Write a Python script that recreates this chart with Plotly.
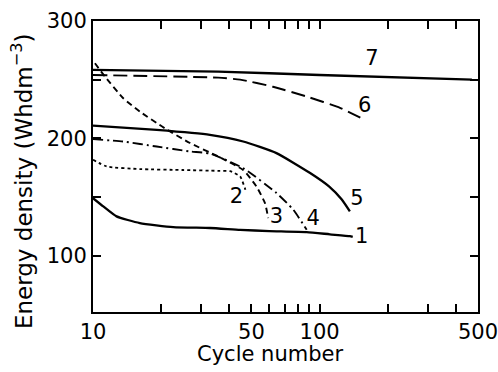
import plotly.graph_objects as go

# Curve data (cycle number, energy density in Wh dm^-3)
c1_x = [10, 11.1, 12.7, 16.1, 22.6, 32.8, 44.6, 60, 87.7, 111, 136, 140]
c1_y = [149, 142, 133.5, 127.8, 124.4, 123.6, 122, 121, 120.1, 118.2, 116.6, 116]

c2_x = [10, 11.5, 16.1, 25, 35.7, 40.3, 44.6, 46.8, 47.3]
c2_y = [181.7, 176, 173.8, 173, 172.3, 172, 167.5, 157.6, 154.7]

c3_x = [10.2, 11.3, 13.6, 16.1, 20.7, 26.8, 35.7, 46, 52.6, 57.4, 59.3]
c3_y = [264, 252.6, 234.2, 222.8, 208.7, 196, 184.5, 173, 159, 144.8, 132]

c4_x = [10, 13.6, 19.1, 26.8, 32.8, 46, 64.5, 76.6, 87.7]
c4_y = [199.3, 197.3, 193, 188.8, 187, 174.6, 153.4, 139.1, 122]

c5_x = [10, 19.1, 32.8, 46, 64.5, 90.8, 110, 125, 136]
c5_y = [210.9, 207.2, 203, 197.3, 187.4, 170.4, 159, 148, 137.7]

c6_x = [10, 35.7, 44.6, 62.2, 87.7, 123, 157]
c6_y = [254, 251.7, 250, 244, 235.6, 226, 216]

c7_x = [10, 35.7, 100, 470]
c7_y = [258.3, 256.9, 254, 250]

labels = ["1", "2", "3", "4", "5", "6", "7"]
label_x = [153.5, 43, 64.5, 93.7, 146, 158, 170]
label_y = [115, 149, 132, 130.6, 147.7, 227, 267]

x_title = "Cycle number"
y_title = "Energy density (Whdm<sup>−3</sup>)"

x_tickvals = [10, 20, 30, 40, 50, 60, 70, 80, 90, 100, 200, 300, 400, 500]
x_ticktext = ["10", "", "", "", "50", "", "", "", "", "100", "", "", "", "500"]
y_tickvals = [100, 150, 200, 250, 300]
y_ticktext = ["100", "", "200", "", "300"]

series = [
    (c1_x, c1_y, "solid", 2.3),
    (c2_x, c2_y, "dot", 1.8),
    (c3_x, c3_y, "6px,4px", 1.9),
    (c4_x, c4_y, "10px,4px,2px,4px", 1.9),
    (c5_x, c5_y, "solid", 2.3),
    (c6_x, c6_y, "14px,6px", 1.9),
    (c7_x, c7_y, "solid", 2.3),
]

fig = go.Figure()
for xs, ys, dash, w in series:
    fig.add_trace(go.Scatter(x=xs, y=ys, mode="lines",
                             line=dict(color="black", width=w, dash=dash, shape="spline", smoothing=0.5),
                             showlegend=False, hoverinfo="skip"))

fig.add_trace(go.Scatter(x=label_x, y=label_y, mode="text", text=labels,
                         textfont=dict(family="DejaVu Sans", size=21, color="black"),
                         showlegend=False, hoverinfo="skip"))

fig.update_layout(
    width=498, height=372,
    margin=dict(l=93, r=20, t=21, b=60, autoexpand=False),
    paper_bgcolor="white", plot_bgcolor="white",
    font=dict(family="DejaVu Sans", size=21, color="black"),
)
fig.add_annotation(text=x_title, xref="paper", yref="paper", x=0.46, y=0,
                   yshift=-28, xanchor="center", yanchor="top", showarrow=False,
                   font=dict(size=21))
fig.add_annotation(text=y_title, xref="paper", yref="paper", x=0, y=0.45,
                   xshift=-71, xanchor="center", yanchor="middle", textangle=-90,
                   showarrow=False, font=dict(size=23))
fig.update_xaxes(type="log", range=[1, 2.69897], automargin=False,
                 tickvals=x_tickvals, ticktext=x_ticktext, ticklabeloverflow="allow",
                 ticks="inside", ticklen=8, tickwidth=1.5, tickcolor="black",
                 showline=True, linecolor="black", linewidth=2, mirror="ticks",
                 showgrid=False, zeroline=False, tickfont=dict(size=21))
fig.update_yaxes(range=[52, 300], automargin=False,
                 tickvals=y_tickvals, ticktext=y_ticktext, ticklabeloverflow="allow",
                 ticks="inside", ticklen=8, tickwidth=1.5, tickcolor="black",
                 showline=True, linecolor="black", linewidth=2, mirror="ticks",
                 showgrid=False, zeroline=False, tickfont=dict(size=21))

fig.write_html("out.html", config={"displayModeBar": False},
               post_script="document.body.style.margin='0';document.body.style.overflow='hidden';")
